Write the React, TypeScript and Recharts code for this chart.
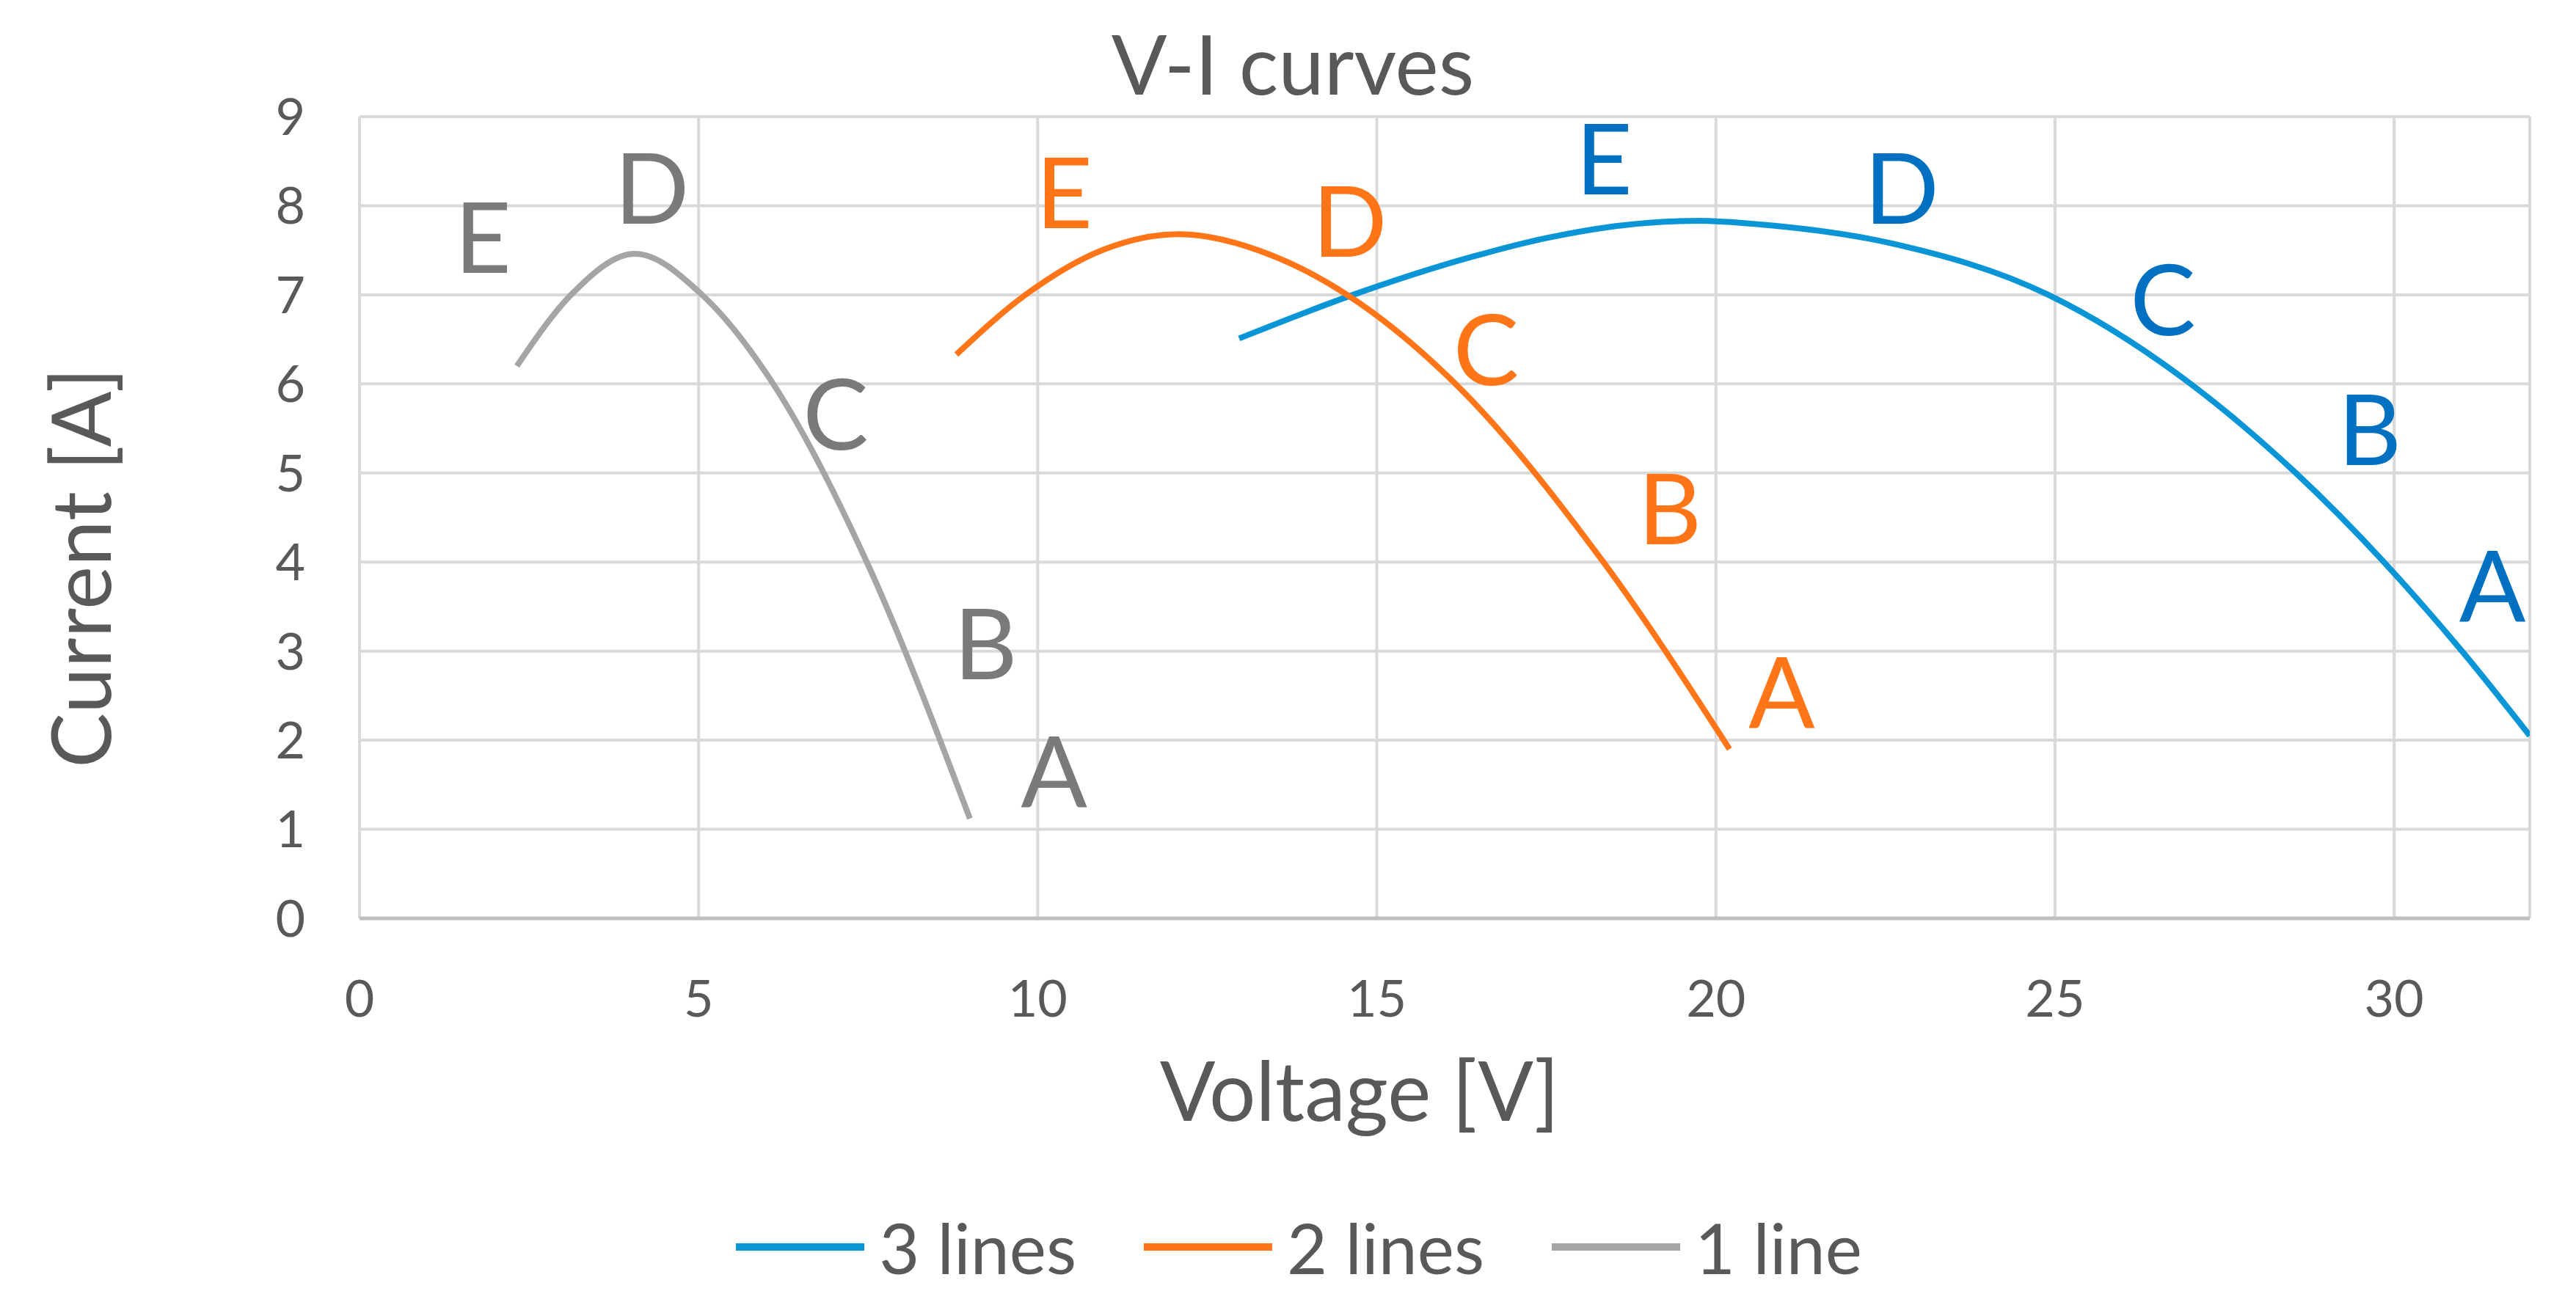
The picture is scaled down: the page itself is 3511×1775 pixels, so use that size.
import React from "react";
import {
  ComposedChart,
  Line,
  XAxis,
  YAxis,
  CartesianGrid,
  Legend,
  ReferenceDot,
} from "recharts";

// V-I curve samples: [voltage, current]
const threeLines: [number, number][] = [
  [12.97, 6.51], [14.65, 7.0], [16.42, 7.43], [17.52, 7.64], [18.62, 7.78], [19.73, 7.83],
  [20.65, 7.79], [22.57, 7.58], [24.9, 7.0], [27.0, 6.0], [28.55, 5.0], [31.0, 3.0], [32.0, 2.05],
];
const twoLines: [number, number][] = [
  [8.8, 6.33], [9.82, 7.0], [10.98, 7.51], [12.08, 7.68], [13.46, 7.44], [14.56, 7.0],
  [16.16, 6.0], [18.34, 4.0], [20.2, 1.9],
];
const oneLine: [number, number][] = [
  [2.32, 6.2], [3.12, 7.0], [4.06, 7.46], [5.05, 7.0], [6.1, 6.0],
  [7.48, 4.0], [9.0, 1.12],
];

// operating point letters and where they sit (voltage, current)
const pointNames = ["A", "B", "C", "D", "E"];
const threeLinesLabels: [number, number][] = [[31.45, 3.73], [29.64, 5.48], [26.59, 6.94], [22.74, 8.19], [18.35, 8.52]];
const twoLinesLabels: [number, number][] = [[20.97, 2.53], [19.32, 4.59], [16.61, 6.38], [14.6, 7.82], [10.39, 8.14]];
const oneLineLabels: [number, number][] = [[10.24, 1.64], [9.23, 3.08], [7.02, 5.65], [4.31, 8.19], [1.82, 7.64]];

const xTicks = [0, 5, 10, 15, 20, 25, 30];
const yTicks = [0, 1, 2, 3, 4, 5, 6, 7, 8, 9];

const FONT = "Lato, 'Open Sans', sans-serif";
const TEXT = "#595959";

const toRows = (pts: [number, number][]) => pts.map(([v, i]) => ({ v, i }));

const series = [
  { name: "3 lines", data: toRows(threeLines), color: "#0A96D6", labelColor: "#0070C0", labels: threeLinesLabels },
  { name: "2 lines", data: toRows(twoLines), color: "#FF7518", labelColor: "#FF7518", labels: twoLinesLabels },
  { name: "1 line", data: toRows(oneLine), color: "#A5A5A5", labelColor: "#7A7A7A", labels: oneLineLabels },
];

function LegendContent() {
  return (
    <div
      style={{
        display: "flex",
        justifyContent: "center",
        alignItems: "center",
        height: 100,
        fontFamily: FONT,
        fontSize: 95,
        color: TEXT,
        paddingLeft: 30,
      }}
    >
      {series.map((s, k) => (
        <div key={s.name} style={{ display: "flex", alignItems: "center", marginRight: k < series.length - 1 ? 92 : 0 }}>
          <div style={{ width: 175, height: 10, background: s.color, marginRight: 20 }} />
          <span>{s.name}</span>
        </div>
      ))}
    </div>
  );
}

export default function App() {
  return (
    <div style={{ position: "absolute", left: 0, top: 0, background: "#fff" }}>
      <ComposedChart width={3511} height={1775} margin={{ top: 159, right: 63, left: 0, bottom: 0 }}>
        <CartesianGrid stroke="#D9D9D9" strokeWidth={4} />
        <XAxis
          type="number"
          dataKey="v"
          domain={[0, 32]}
          ticks={xTicks}
          allowDataOverflow
          height={523}
          tickSize={0}
          tickMargin={84}
          tickLine={false}
          axisLine={{ stroke: "#BFBFBF", strokeWidth: 5 }}
          tick={{ fill: TEXT, fontSize: 70, fontFamily: FONT }}
          label={{
            content: () => (
              <text x={1853} y={1528} textAnchor="middle" fill={TEXT} fontSize={112} fontFamily={FONT}>
                Voltage [V]
              </text>
            ),
          }}
        />
        <YAxis
          type="number"
          domain={[0, 9]}
          ticks={yTicks}
          width={490}
          tickSize={0}
          tickMargin={74}
          tickLine={false}
          axisLine={false}
          tick={{ fill: TEXT, fontSize: 70, fontFamily: FONT }}
          label={{
            content: () => (
              <text
                x={111}
                y={774}
                transform="rotate(-90 111 774)"
                dy="0.36em"
                textAnchor="middle"
                fill={TEXT}
                fontSize={112}
                fontFamily={FONT}
              >
                Current [A]
              </text>
            ),
          }}
        />
        {series.map((s) => (
          <Line
            key={s.name}
            name={s.name}
            data={s.data}
            dataKey="i"
            type="monotoneX"
            stroke={s.color}
            strokeWidth={8}
            dot={false}
            activeDot={false}
            isAnimationActive={false}
          />
        ))}
        {series.map((s) =>
          s.labels.map(([v, i], k) => (
            <ReferenceDot
              key={s.name + pointNames[k]}
              x={v}
              y={i}
              r={0}
              stroke="none"
              fill="none"
              ifOverflow="visible"
              label={{ value: pointNames[k], position: "center", fill: s.labelColor, fontSize: 134, fontFamily: FONT }}
            />
          ))
        )}
        <Legend
          verticalAlign="middle"
          layout="horizontal"
          align="center"
          content={() => <LegendContent />}
          wrapperStyle={{ top: 1650, left: 0, width: 3511 }}
        />
        <text x={1762} y={129} textAnchor="middle" fill={TEXT} fontSize={112} fontFamily={FONT}>
          V-I curves
        </text>
      </ComposedChart>
    </div>
  );
}
